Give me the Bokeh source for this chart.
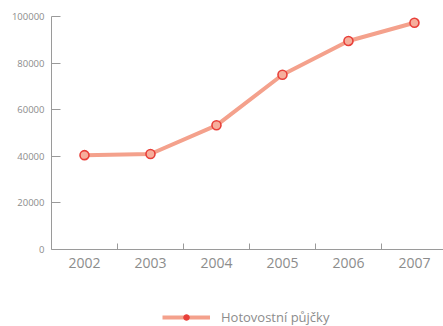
from bokeh.plotting import figure
from bokeh.layouts import column
from bokeh.models import FixedTicker, Range1d, Legend, LegendItem
from bokeh.embed import file_html
from bokeh.resources import INLINE

years = [2002, 2003, 2004, 2005, 2006, 2007]
values = [40500, 41000, 53300, 75000, 89500, 97300]
y_ticks = [0, 20000, 40000, 60000, 80000, 100000]
series_name = "Hotovostní půjčky"

FONT = "Open Sans"
GRAY = "#8c8c8c"
AXIS = "#9a9a9a"
LINE_C = "#F4A18C"
MARK_FILL = "#F6AE9C"
MARK_LINE = "#E8403A"

p = figure(width=443, height=290, output_backend="svg", toolbar_location=None,
           x_range=Range1d(2001.5, 2007.44), y_range=Range1d(0, 100000),
           min_border_left=51, min_border_right=0, min_border_top=16, min_border_bottom=41)
p.outline_line_color = None
p.grid.visible = False

p.line(years, values, line_color=LINE_C, line_width=4)
p.scatter(years, values, size=9, fill_color=MARK_FILL, line_color=MARK_LINE, line_width=1.6)

# x axis
xa = p.xaxis[0]
xa.ticker = FixedTicker(ticks=years, minor_ticks=[y + 0.5 for y in years[:-1]])
xa.major_tick_in = 0
xa.major_tick_out = 0
xa.minor_tick_in = 6
xa.minor_tick_out = 0
xa.minor_tick_line_color = AXIS
xa.axis_line_color = AXIS
xa.major_label_text_font = FONT
xa.major_label_text_font_size = "14px"
xa.major_label_text_color = GRAY
xa.major_label_standoff = 8

# y axis
ya = p.yaxis[0]
ya.ticker = FixedTicker(ticks=y_ticks, minor_ticks=[])
ya.major_tick_in = 9
ya.major_tick_out = 0
ya.major_tick_line_color = AXIS
ya.axis_line_color = AXIS
ya.major_label_text_font = FONT
ya.major_label_text_font_size = "9.5px"
ya.major_label_text_color = GRAY
ya.major_label_standoff = 7
ya.formatter.use_scientific = False

# legend strip below the chart
pl = figure(width=443, height=36, output_backend="svg", toolbar_location=None,
            x_range=Range1d(0, 1), y_range=Range1d(0, 1),
            x_axis_location=None, y_axis_location=None,
            min_border=0)
pl.outline_line_color = None
pl.grid.visible = False
l_line = pl.line(years, values, line_color=LINE_C, line_width=4)
l_pts = pl.scatter(years, values, size=9, fill_color=MARK_LINE, line_color=MARK_LINE)

legend = Legend(items=[LegendItem(label=series_name, renderers=[l_line, l_pts])],
                location=(111, 0), orientation="horizontal",
                border_line_color=None, background_fill_alpha=0,
                padding=0, margin=0, glyph_width=48, glyph_height=14,
                label_height=14, label_standoff=11,
                label_text_font=FONT, label_text_font_size="13px",
                label_text_color=GRAY)
pl.add_layout(legend)

layout = column(p, pl, spacing=0)
open("out.html", "w").write(file_html(layout, INLINE))
